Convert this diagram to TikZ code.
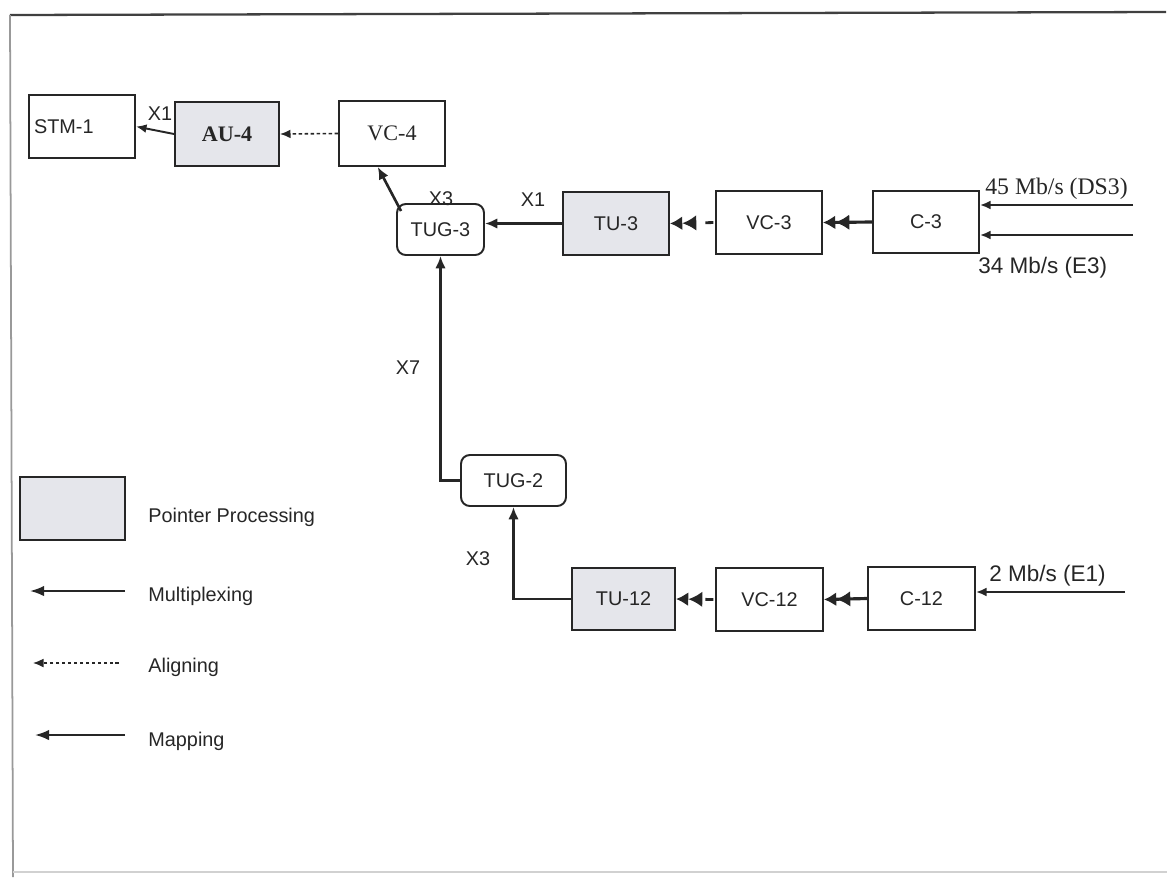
\documentclass[tikz,border=0pt]{standalone}
\usepackage{fontspec}
\setmainfont{Liberation Sans}
\newfontfamily\timesfam{Liberation Serif}
\usetikzlibrary{arrows.meta,calc}
\definecolor{ink}{HTML}{262626}
\definecolor{ptrfill}{RGB}{229,230,235}
\begin{document}
\begin{tikzpicture}[x=0.02cm,y=-0.02cm,
  every node/.style={text=ink},
  lbl/.style={font=\fontsize{11.3}{13}\selectfont, inner sep=0pt},
  blk/.style={draw=ink, line width=1.1pt, inner sep=0pt, font=\fontsize{11.3}{13}\selectfont},
  ptr/.style={blk, fill=ptrfill},
  tug/.style={blk, rounded corners=5pt},
  mux/.style={draw=ink, line width=1.5pt, -{Latex[length=7pt,width=6pt]}},
  thinmux/.style={draw=ink, line width=1.1pt, -{Latex[length=6pt,width=5pt]}},
  aligndash/.style={draw=ink, line width=0.9pt, dash pattern=on 2pt off 1.4pt, -{Latex[length=6pt,width=5pt]}},
  bighead/.style={-{Latex[length=8pt,width=9pt]Latex[length=7pt,width=8pt]}},
  mapgap/.style={draw=ink, line width=1.6pt, dash pattern=on 0pt off 1pt on 4.5pt off 60pt, bighead},
  mapsolid/.style={draw=ink, line width=1.8pt, bighead},
  feed/.style={draw=ink, line width=1.1pt, -{Latex[length=6pt,width=5pt]}},
  legarrow/.style={draw=ink, line width=1.2pt, -{Latex[length=8pt,width=6pt]}},
]
\useasboundingbox (0,0) rectangle (1167,877);

% page frame
\draw[line width=1.3pt, black!75] (10,15) -- (1166,12);
\draw[line width=1pt, black!40] (10,15) -- (13,877);
\draw[line width=0.8pt, black!18] (13,872) -- (1167,872);

% upper chain
\node[blk, minimum width=2.12cm, minimum height=1.26cm, text width=1.92cm, align=left, inner xsep=0.1cm] (stm) at (82,126.5) {STM-1};
\node[ptr, minimum width=2.08cm, minimum height=1.28cm, font=\timesfam\bfseries\fontsize{12.6}{14}\selectfont] (au4) at (227,134) {AU-4};
\node[blk, minimum width=2.12cm, minimum height=1.3cm, font=\timesfam\fontsize{12.6}{14}\selectfont] (vc4) at (392,133.5) {VC-4};
\node[tug, minimum width=1.74cm, minimum height=1.02cm] (tug3) at (440.5,229.5) {TUG-3};
\node[ptr, minimum width=2.12cm, minimum height=1.26cm] (tu3) at (616,223.5) {TU-3};
\node[blk, minimum width=2.12cm, minimum height=1.26cm] (vc3) at (769,222.5) {VC-3};
\node[blk, minimum width=2.12cm, minimum height=1.24cm] (c3) at (926,222) {C-3};

% lower chain
\node[tug, minimum width=2.1cm, minimum height=1.02cm] (tug2) at (513.5,480.5) {TUG-2};
\node[ptr, minimum width=2.06cm, minimum height=1.24cm] (tu12) at (623.5,599) {TU-12};
\node[blk, minimum width=2.14cm, minimum height=1.26cm] (vc12) at (769.5,599.5) {VC-12};
\node[blk, minimum width=2.14cm, minimum height=1.26cm] (c12) at (921.5,598.5) {C-12};

% connectors
\draw[thinmux] (au4.west) -- (stm.east);
\draw[aligndash] (vc4.west) -- (au4.east);
\draw[mux] ($(tug3.north west)+(5,8)$) -- (vc4.247);
\draw[mux] (tu3.west) -- (tu3.west -| tug3.east);
\draw[mapgap] (vc3.west) -- (tu3.east);
\draw[mapsolid] (c3.west) -- (vc3.east);
\draw[mux] (tug2.west) -| (tug3.south);
\draw[mux] (tu12.west) -| (tug2.south);
\draw[mapgap] (vc12.west) -- (tu12.east);
\draw[mapsolid] (c12.west) -- (vc12.east);

% multiplexing factors
\node[lbl] (fx1a) at (160,114) {X1};
\node[lbl] (fx3a) at (441,199) {X3};
\node[lbl] (fx1b) at (533,200) {X1};
\node[lbl] (fx7) at (408,368) {X7};
\node[lbl] (fx3b) at (478,559) {X3};

% tributary inputs
\coordinate (inds3) at (1133,205);
\coordinate (ine3) at (1133,235);
\coordinate (ine1) at (1125,592);
\draw[feed] (inds3) -- (inds3 -| c3.east);
\draw[feed] (ine3) -- (ine3 -| c3.east);
\draw[feed] (ine1) -- (ine1 -| c12.east);
\node[anchor=west, inner sep=0pt, font=\timesfam\fontsize{13.5}{15}\selectfont] (tds3) at (985,189) {45 Mb/s (DS3)};
\node[anchor=west, inner sep=0pt, font=\fontsize{12.8}{15}\selectfont] (te3) at (978,268) {34 Mb/s (E3)};
\node[anchor=west, inner sep=0pt, font=\fontsize{12.8}{15}\selectfont] (te1) at (989,576) {2 Mb/s (E1)};

% legend
\node[ptr, minimum width=2.1cm, minimum height=1.26cm] (legbox) at (72.5,508.5) {};
\node[lbl, anchor=west] (legptr) at (148,517) {Pointer Processing};
\coordinate (lma) at (125,591); \coordinate (lmb) at (30,591);
\draw[legarrow] (lma) -- (lmb);
\node[lbl, anchor=west] (legmux) at (148,596) {Multiplexing};
\coordinate (laa) at (119,663); \coordinate (lab) at (33,663);
\draw[aligndash, line width=0.7pt] (laa) -- (lab);
\node[lbl, anchor=west] (legalign) at (148,667) {Aligning};
\coordinate (lpa) at (125,735); \coordinate (lpb) at (35,735);
\draw[legarrow] (lpa) -- (lpb);
\node[lbl, anchor=west] (legmap) at (148,741) {Mapping};
\end{tikzpicture}
\end{document}
